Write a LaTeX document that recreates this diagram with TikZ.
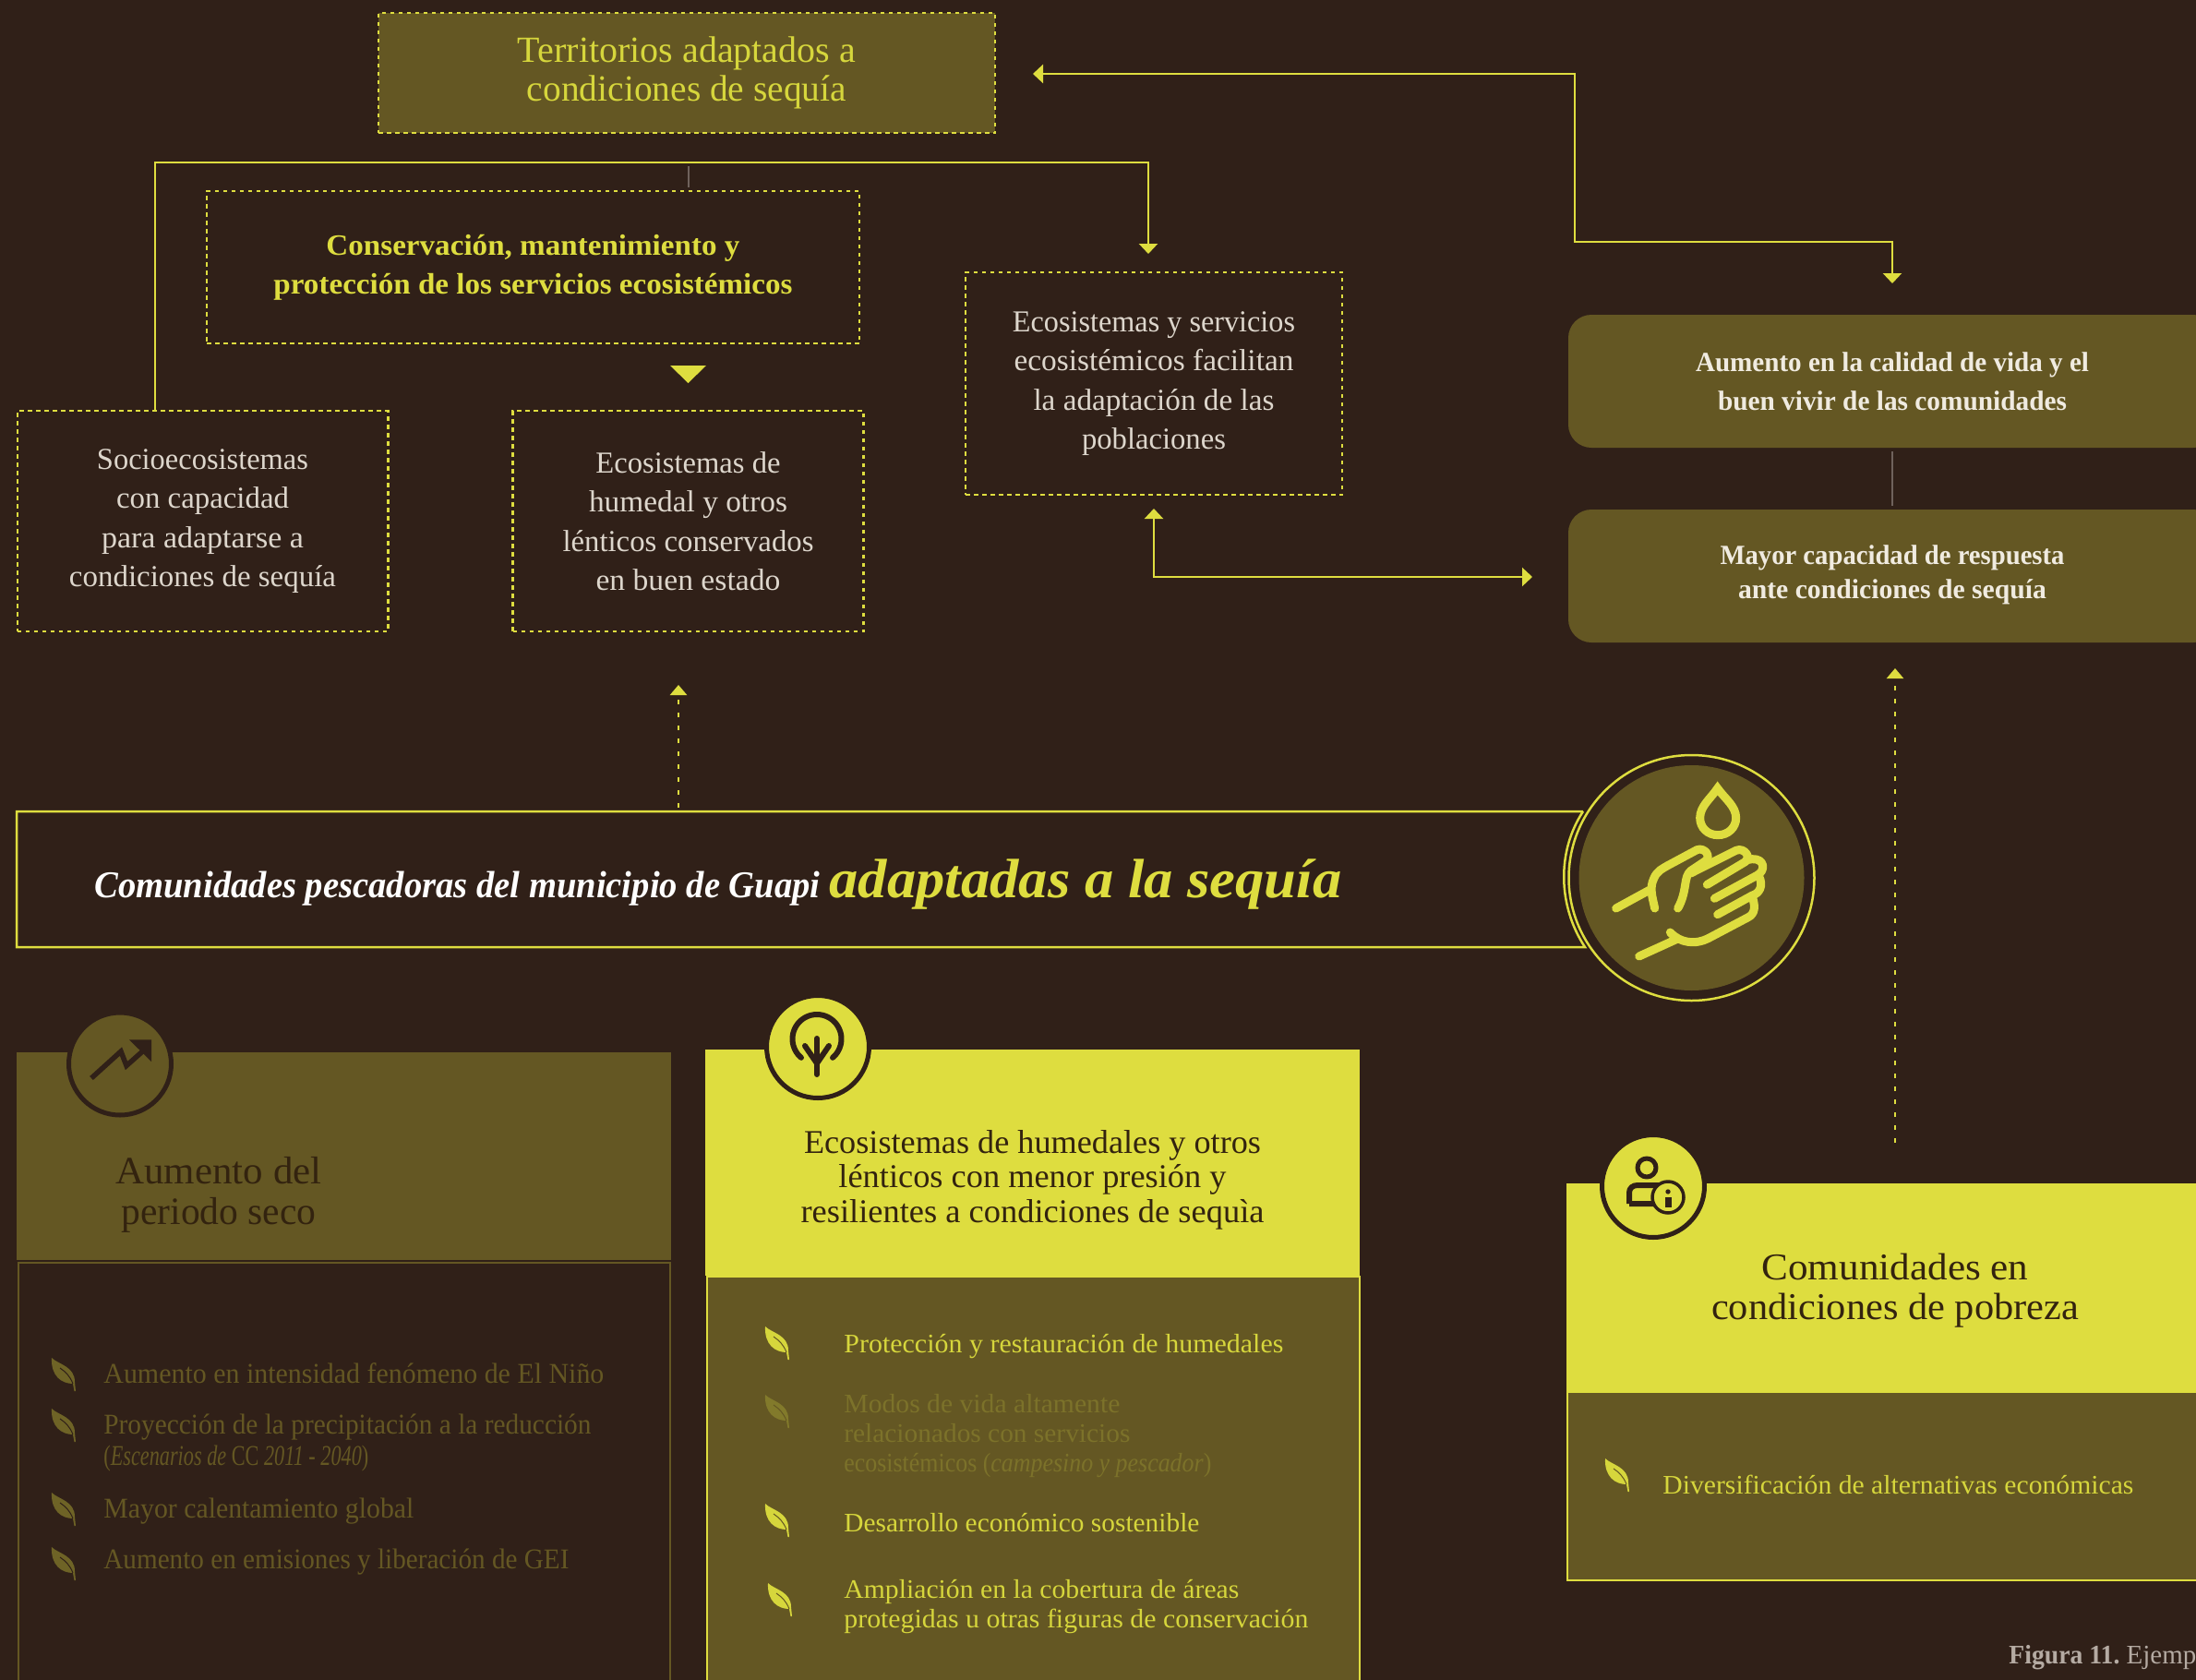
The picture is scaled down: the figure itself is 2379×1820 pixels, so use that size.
\documentclass[tikz,border=0pt]{standalone}
\usepackage{fontspec}
\usepackage{graphicx}
\setmainfont{Liberation Serif}
\usetikzlibrary{arrows.meta,calc}
\definecolor{bg}{HTML}{302018}
\definecolor{olive}{HTML}{645723}
\definecolor{lime}{HTML}{DEDD3F}
\definecolor{limetxt}{HTML}{D6D63C}
\definecolor{paletxt}{HTML}{DDD6CC}
\definecolor{white2}{HTML}{F0EBE0}
\definecolor{leafA}{HTML}{6E6326}
\definecolor{leafB}{HTML}{827A2B}
\definecolor{fadedB}{HTML}{7C722A}
\definecolor{greyln}{HTML}{6F625C}
\definecolor{capt}{HTML}{B5ABA3}
\definecolor{darktx}{HTML}{33230F}
\newlength\pxu \setlength\pxu{0.5pt}
\newcommand\fl[2]{\resizebox{#1\pxu}{\height}{#2}}
\newcommand\fpx[2]{\fontsize{#1}{#2}\selectfont}
\newcommand\topgap[1]{\rule{0pt}{#1\pxu}}
\newcommand\botgap[1]{\rule[-#1\pxu]{0pt}{#1\pxu}}
\newcommand\leafmark[4]{%
  \begin{scope}[shift={(#1,#2)}]
    \fill[#3] (0,0) .. controls (7,7) and (25,9) .. (25,26) -- (26,36) -- (24.5,36) -- (23,28)
      .. controls (11,28) and (-1,20) .. (0,0) -- cycle;
    \draw[#4,line width=.5pt] (9,11) .. controls (15,15) and (20,20) .. (23,28);
  \end{scope}}
\tikzset{
  dbox/.style={draw=lime,line width=1.25pt,dash pattern=on 2.25pt off 2.25pt,inner sep=0pt,align=center},
  pxw/.style={minimum width=#1*0.5pt},
  pxh/.style={minimum height=#1*0.5pt},
  conn/.style={draw=lime,line width=1.25pt},
  tipped/.style={conn,-{Triangle[width=10pt,length=5.5pt]}},
  twotip/.style={conn,{Triangle[width=10pt,length=5.5pt]}-{Triangle[width=10pt,length=5.5pt]}},
  dotarr/.style={conn,dash pattern=on 2.75pt off 4.25pt,-{Triangle[width=9pt,length=5.5pt]}},
  greyl/.style={draw=greyln,line width=1pt},
  roundb/.style={fill=olive,rounded corners=12.5pt,inner sep=0pt,align=center,text=white2,font=\bfseries},
  block/.style={inner sep=0pt,align=center},
  item/.style={inner sep=0pt,anchor=base west,align=left},
  badge/.style={circle,inner sep=0pt,draw=bg,line width=2.5pt,minimum size=111*0.5pt},
  iconln/.style={draw=bg,line width=2.75pt,line cap=round,line join=round},
  handln/.style={draw=lime,line width=4.5pt,line cap=round,line join=round},
}
\begin{document}
\begin{tikzpicture}[x=0.5pt,y=-0.5pt]
\path[use as bounding box,fill=bg] (0,0) rectangle (2379,1820);
\clip (0,0) rectangle (2379,1820);

% top row
\node[dbox,fill=olive,pxw=668,pxh=130,text=limetxt,font=\fpx{20}{21}] (terr) at (744,79)
  {\fl{366}{Territorios adaptados a}\\\fl{346}{condiciones de sequía}};
\node[dbox,pxw=707,pxh=165,text=lime,font=\fpx{16}{21}\bfseries] (cons) at (577.5,289.5)
  {\fl{448}{Conservación, mantenimiento y}\\\fl{562}{protección de los servicios ecosistémicos}};
\node[dbox,pxw=401.5,pxh=239,text=paletxt,font=\fpx{16.5}{21.25}] (socio) at (219.5,564.5)
  {\fl{229}{Socioecosistemas}\\\fl{187}{con capacidad}\\\fl{219}{para adaptarse a}\\\fl{289}{condiciones de sequía}};
\node[dbox,pxw=380,pxh=239,text=paletxt,font=\fpx{16.5}{21.25}] (humed) at (745.5,564.5)
  {\fl{200}{Ecosistemas de}\\\fl{215}{humedal y otros}\\\fl{272}{lénticos conservados}\\\fl{200}{en buen estado}};
\node[dbox,pxw=408,pxh=241,text=paletxt,font=\fpx{16.5}{21.25}] (servi) at (1250,415.5)
  {\fl{306}{Ecosistemas y servicios}\\\fl{303}{ecosistémicos facilitan}\\\fl{261}{la adaptación de las}\\\fl{156}{poblaciones}};
\node[roundb,pxw=702,pxh=144,font=\fpx{15}{21}\bfseries] (vida) at (2050,413)
  {\fl{426}{Aumento en la calidad de vida y el}\\\fl{378}{buen vivir de las comunidades}};
\node[roundb,pxw=702,pxh=144,font=\fpx{15}{18.5}\bfseries] (resp) at (2050,624)
  {\fl{373}{Mayor capacidad de respuesta}\\\fl{334}{ante condiciones de sequía\botgap{9}}};

% connectors of the top part
\coordinate (socioTop) at (socio.north -| 168,0);
\coordinate (hubL) at (168,176);
\coordinate (hubR) at (1244,176);
\coordinate (servTip) at (1244,275);
\draw[tipped] (socioTop) -- (hubL) -- (hubR) -- (servTip);
\coordinate (tickTop) at (746,180);
\coordinate (tickBot) at (746,203);
\draw[greyl] (tickTop) -- (tickBot);
\fill[lime] (726,396) -- (765,396) -- (745.5,415) -- cycle;
\coordinate (terrTip) at (1119,80);
\coordinate (vidaTip) at (2050,307);
\draw[twotip] (terrTip) -- (1706,80) -- (1706,262) -- (2050,262) -- (vidaTip);
\coordinate (servUp) at (1250,551);
\coordinate (respTip) at (1660,625);
\draw[twotip] (servUp) -- (1250,625) -- (respTip);
\draw[greyl] (vida.south -| 2050,0) ++(0,4) -- ($(resp.north -| 2050,0)+(0,-4)$);

% banner
\draw[conn,fill=bg] (1715,879) -- (18,879) -- (18,1026) -- (1717,1026)
   .. controls (1688,982) and (1686,923) .. (1715,879);
\node[inner sep=0pt,anchor=base west,text=white,font=\fpx{20.5}{24}\bfseries\itshape] (bannerA) at (102,972.5)
  {\fl{786}{Comunidades pescadoras del municipio de Guapi}};
\node[inner sep=0pt,anchor=base west,text=lime,font=\fpx{30}{34}\bfseries\itshape] (bannerB) at (898,972.5)
  {\fl{555}{adaptadas a la sequía}};
\node[circle,draw=lime,line width=1.25pt,fill=bg,inner sep=0pt,minimum size=133pt] (bigring) at (1832.5,951) {};
\node[circle,fill=olive,inner sep=0pt,minimum size=122pt] (bigdisc) at (1832.5,951) {};
\begin{scope}[shift={(1650,780)},x=0.16667pt,y=-0.16667pt]
  \draw[handln,line join=miter] (632,222) .. controls (610,255) and (575,280) .. (575,318)
     .. controls (575,350) and (600,374) .. (633,374) .. controls (666,374) and (692,350) .. (692,318)
     .. controls (692,280) and (655,255) .. (632,222) -- cycle;
  \draw[handln] (302,612) -- (410,553);
  \draw[handln] (428,612) .. controls (420,575) and (410,545) .. (425,515) .. controls (435,490) and (455,482) .. (470,473)
     -- (565,422) .. controls (590,412) and (615,445) .. (590,460) -- (545,490)
     .. controls (520,510) and (535,555) .. (503,612);
  \draw[handln] (545,498) -- (692,424) .. controls (720,412) and (745,450) .. (720,462) -- (598,535);
  \draw[handln] (725,455) -- (745,452) .. controls (785,450) and (790,490) .. (760,505) -- (622,580);
  \draw[handln] (765,505) .. controls (785,540) and (765,565) .. (745,570) -- (632,632);
  \draw[handln] (745,575) .. controls (755,605) and (755,630) .. (730,642) -- (605,708)
     .. controls (560,732) and (510,725) .. (478,690);
  \draw[handln] (377,768) -- (500,712);
\end{scope}
\coordinate (bannerUp) at (735,875);
\coordinate (bannerTip) at (735,742);
\draw[dotarr] (bannerUp) -- (bannerTip);
\coordinate (pobrezaUp) at (2053,1238);
\coordinate (respUp) at (2053,724);
\draw[dotarr] (pobrezaUp) -- (respUp);

% panel 1
\node[fill=olive,inner sep=0pt,pxw=709,pxh=225] (p1head) at (372.5,1252.5) {};
\node[draw=olive,line width=1.25pt,inner sep=0pt,pxw=706,pxh=462] (p1body) at (372.75,1599) {};
\node[badge,fill=olive] (p1badge) at (130,1152.5) {};
\draw[iconln,line cap=butt,line join=miter] (99,1168) -- (131,1139) -- (137,1154.5) -- (156,1137.6);
\fill[bg] (140,1126.4) -- (164,1126.4) -- (164,1150) -- cycle;
\node[block,text=darktx,font=\fpx{21}{22}] (p1title) at (237,1294)
  {\fl{223}{Aumento del}\\\fl{211}{periodo seco}};
\leafmark{56}{1471}{leafA}{bg}
\leafmark{56}{1526}{leafA}{bg}
\leafmark{56}{1617}{leafA}{bg}
\leafmark{56}{1676}{leafA}{bg}
\node[item,text=olive,font=\fpx{15.5}{17}] (p1i1) at (112,1498) {\fl{542}{Aumento en intensidad fenómeno de El Niño}};
\node[item,text=olive,font=\fpx{15.5}{17}] (p1i2) at (112,1587)
  {\fl{528}{Proyección de la precipitación a la reducción}\\\fl{287}{(\textit{Escenarios de} CC \textit{2011 - 2040})}};
\node[item,text=olive,font=\fpx{15.5}{17}] (p1i3) at (112,1644) {\fl{336}{Mayor calentamiento global}};
\node[item,text=olive,font=\fpx{15.5}{17}] (p1i4) at (112,1699) {\fl{504}{Aumento en emisiones y liberación de GEI}};

% panel 2
\node[fill=lime,inner sep=0pt,pxw=709,pxh=245] (p2head) at (1118.5,1259.5) {};
\node[draw=lime,fill=olive,line width=1.25pt,inner sep=0pt,pxw=707,pxh=447] (p2body) at (1119.5,1606.5) {};
\node[badge,fill=lime] (p2badge) at (886,1134) {};
\draw[iconln,line width=3pt,domain=-50:230,samples=50,line cap=round] plot ({885+26.5*cos(\x)},{1125.5-26.5*sin(\x)});
\draw[iconln,line width=3pt] (885,1125) -- (885,1164);
\draw[iconln,line width=3pt] (872,1133) -- (885,1152) -- (898,1133);
\node[block,text=darktx,font=\fpx{18}{18.75}] (p2title) at (1118.5,1278)
  {\fl{495}{Ecosistemas de humedales y otros}\\\fl{420}{lénticos con menor presión y}\\\fl{502}{resilientes a condiciones de sequìa}};
\leafmark{829}{1437}{limetxt}{olive}
\leafmark{829}{1511}{leafB}{olive}
\leafmark{829}{1629}{limetxt}{olive}
\leafmark{832}{1715}{limetxt}{olive}
\node[item,text=limetxt,font=\fpx{14.5}{16}] (p2i1) at (914,1465) {\fl{476}{Protección y restauración de humedales}};
\node[item,text=fadedB,font=\fpx{14.5}{16}] (p2i2) at (914,1594)
  {\fl{299}{Modos de vida altamente}\\\fl{310}{relacionados con servicios}\\\fl{398}{ecosistémicos (\textit{campesino y pescador})}};
\node[item,text=limetxt,font=\fpx{14.5}{16}] (p2i3) at (914,1659) {\fl{385}{Desarrollo económico sostenible}};
\node[item,text=limetxt,font=\fpx{14.5}{16}] (p2i4) at (914,1763)
  {\fl{428}{Ampliación en la cobertura de áreas}\\\fl{503}{protegidas u otras figuras de conservación}};

% panel 3
\node[fill=lime,inner sep=0pt,pxw=712,pxh=226] (p3head) at (2053,1395) {};
\node[draw=lime,fill=olive,line width=1.25pt,inner sep=0pt,pxw=711,pxh=204] (p3body) at (2053.5,1610) {};
\node[badge,fill=lime] (p3badge) at (1791,1285) {};
\draw[iconln,line width=2.5pt] (1784,1265) circle[radius=10];
\draw[iconln,line width=3pt,line join=miter,line cap=butt] (1765,1304) -- (1765,1292) .. controls (1765,1287) and (1769,1284) .. (1774,1284) -- (1797,1284) (1765,1304) -- (1797,1304);
\node[circle,fill=lime,draw=bg,line width=1.75pt,inner sep=0pt,minimum size=17pt] (info) at (1807,1297) {};
\fill[bg] (1807,1291) circle[radius=2.7];
\fill[bg] (1803.5,1297) rectangle (1810.5,1308);
\node[block,text=darktx,font=\fpx{20.5}{21.25}] (p3title) at (2053,1398)
  {\fl{289}{Comunidades en}\\\fl{398}{condiciones de pobreza}};
\leafmark{1739}{1580}{limetxt}{olive}
\node[item,text=limetxt,font=\fpx{14.5}{16}] (p3i1) at (1801,1618) {\fl{510}{Diversificación de alternativas económicas}};

% caption
\node[item,text=capt,font=\fpx{14.5}{16}] (caption) at (2176,1802) {\fl{120}{\textbf{Figura 11.}} Ejemp};
\end{tikzpicture}
\end{document}
